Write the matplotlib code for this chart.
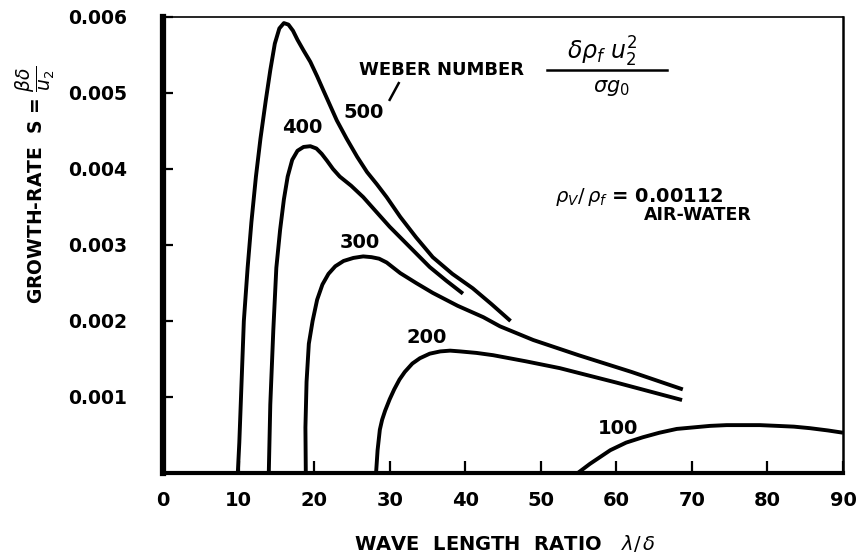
import matplotlib
matplotlib.use("Agg")
import matplotlib.pyplot as plt

plt.rcParams['font.family'] = ['DejaVu Sans']
plt.rcParams['mathtext.fontset'] = 'dejavusans'

# Weber number curves: wave length ratio (x) vs growth rate (y)
x500 = [9.9, 10.1, 10.4, 10.7, 11.2, 11.7, 12.3, 12.9, 13.6, 14.2, 14.8, 15.4, 16.0, 16.6, 17.2, 17.8, 18.6, 19.5,
        20.4, 21.2, 22.1, 23.0, 24.3, 25.7, 27.0, 28.3, 29.6, 31.4, 33.5, 35.7, 38.3, 41.0, 43.5, 46.0]
y500 = [0.0, 0.0004, 0.0012, 0.0020, 0.0027, 0.0033, 0.0039, 0.0044, 0.0049, 0.0053, 0.00565, 0.00585, 0.00592,
        0.0059, 0.00582, 0.0057, 0.00556, 0.00541, 0.00522, 0.00504, 0.00484, 0.00464, 0.0044, 0.00416, 0.00396,
        0.0038, 0.00363, 0.00337, 0.0031, 0.00284, 0.00262, 0.00243, 0.00222, 0.00200]

x400 = [14.0, 14.2, 14.6, 15.0, 15.5, 16.0, 16.5, 17.1, 17.8, 18.6, 19.5, 20.3, 21.0, 21.7, 22.5, 23.4, 24.9,
        26.5, 28.2, 30.0, 32.6, 35.3, 37.5, 39.7]
y400 = [0.0, 0.0009, 0.00188, 0.0027, 0.0032, 0.0036, 0.0039, 0.00412, 0.00424, 0.00429, 0.0043, 0.00427, 0.0042,
        0.00411, 0.0040, 0.0039, 0.00378, 0.00363, 0.00344, 0.00324, 0.00298, 0.00271, 0.00253, 0.00236]

x300 = [18.9, 18.85, 19.0, 19.3, 19.8, 20.4, 21.1, 21.9, 22.8, 23.9, 25.2, 26.5, 27.6, 28.6, 29.6, 30.5, 31.4,
        33.5, 35.7, 39.0, 42.4, 44.6, 49.0, 55.0, 62.0, 68.8]
y300 = [0.0, 0.0006, 0.0012, 0.0017, 0.0020, 0.00228, 0.00248, 0.00262, 0.00272, 0.00279, 0.00283, 0.00285,
        0.00284, 0.00282, 0.00277, 0.0027, 0.00263, 0.0025, 0.00237, 0.0022, 0.00205, 0.00193, 0.00175, 0.00155,
        0.00133, 0.0011]

x200 = [28.2, 28.4, 28.7, 29.0, 29.4, 30.0, 30.6, 31.3, 32.0, 33.0, 34.0, 35.3, 36.7, 38.0, 39.3, 41.5, 43.7,
        48.0, 52.5, 60.0, 68.7]
y200 = [0.0, 0.0003, 0.00057, 0.0007, 0.00082, 0.00097, 0.0011, 0.00123, 0.00133, 0.00144, 0.00151, 0.00157,
        0.0016, 0.00161, 0.0016, 0.00158, 0.00155, 0.00147, 0.00138, 0.00119, 0.00096]

x100 = [54.9, 56.5, 58.0, 59.2, 61.3, 63.5, 65.7, 68.0, 70.2, 72.4, 74.6, 76.8, 79.0, 81.3, 83.5, 85.6, 88.0, 90.0]
y100 = [0.0, 0.00012, 0.00022, 0.0003, 0.0004, 0.00047, 0.00053, 0.00058, 0.0006, 0.00062, 0.00063, 0.00063,
        0.00063, 0.00062, 0.00061, 0.00059, 0.00056, 0.00053]

curve_labels = ["500", "400", "300", "200", "100"]
xticks = [0, 10, 20, 30, 40, 50, 60, 70, 80, 90]
yticks = [0.001, 0.002, 0.003, 0.004, 0.005, 0.006]
ytick_labels = ["0.001", "0.002", "0.003", "0.004", "0.005", "0.006"]

fig = plt.figure(figsize=(8.6, 5.54), dpi=100)
ax = fig.add_axes([163/860, 1-473/554, 680/860, 456/554])

lw = 2.8
for xs, ys in [(x500, y500), (x400, y400), (x300, y300), (x200, y200), (x100, y100)]:
    ax.plot(xs, ys, color='black', lw=lw, solid_capstyle='butt', solid_joinstyle='round', clip_on=False)

ax.set_xlim(0, 90)
ax.set_ylim(0, 0.006)
ax.set_xticks(xticks)
ax.set_xticklabels([str(v) for v in xticks])
ax.set_yticks(yticks)
ax.set_yticklabels(ytick_labels)

ax.spines['left'].set_linewidth(4.5)
ax.spines['bottom'].set_linewidth(3.0)
ax.spines['top'].set_linewidth(1.2)
ax.spines['right'].set_linewidth(1.8)

ax.tick_params(axis='x', direction='in', length=9, width=1.6, pad=13, labelsize=14)
ax.tick_params(axis='y', direction='in', length=7, width=1.6, pad=26, labelsize=13.5)
for lab in ax.get_xticklabels() + ax.get_yticklabels():
    lab.set_fontweight('bold')

tk = dict(fontsize=14, fontweight='bold', ha='center', va='center')
ax.text(26.5, 0.00475, curve_labels[0], **tk)
ax.text(18.4, 0.00454, curve_labels[1], **tk)
ax.text(26.1, 0.00303, curve_labels[2], **tk)
ax.text(34.9, 0.00178, curve_labels[3], **tk)
ax.text(60.2, 0.00059, curve_labels[4], **tk)

ax.text(36.9, 0.00530, "WEBER NUMBER", fontsize=13, fontweight='bold', ha='center', va='center')
ax.plot([31.2, 30.0], [0.00513, 0.00491], color='black', lw=1.8)
ax.text(58.2, 0.00554, r"$\delta\rho_f\ u_2^2$", fontsize=17, ha='center', va='center')
ax.plot([50.8, 66.7], [0.00530, 0.00530], color='black', lw=1.8)
ax.text(59.4, 0.00507, r"$\sigma g_0$", fontsize=15, ha='center', va='center')

ax.text(63.0, 0.00363, r"$\rho_V/\,\rho_f$" + " = 0.00112", fontsize=14, fontweight='bold', ha='center', va='center')
ax.text(70.8, 0.00339, "AIR-WATER", fontsize=12.5, fontweight='bold', ha='center', va='center')

fig.text(505/860, 1-543/554, r"WAVE  LENGTH  RATIO   $\lambda/\,\delta$", fontsize=14, fontweight='bold', ha='center', va='center')
fig.text(35/860, 1-185/554, r"GROWTH-RATE  S = $\dfrac{\beta\delta}{u_2}$", fontsize=13.5, fontweight='bold', ha='center', va='center', rotation=90)

fig.savefig("out.png", dpi=100)
